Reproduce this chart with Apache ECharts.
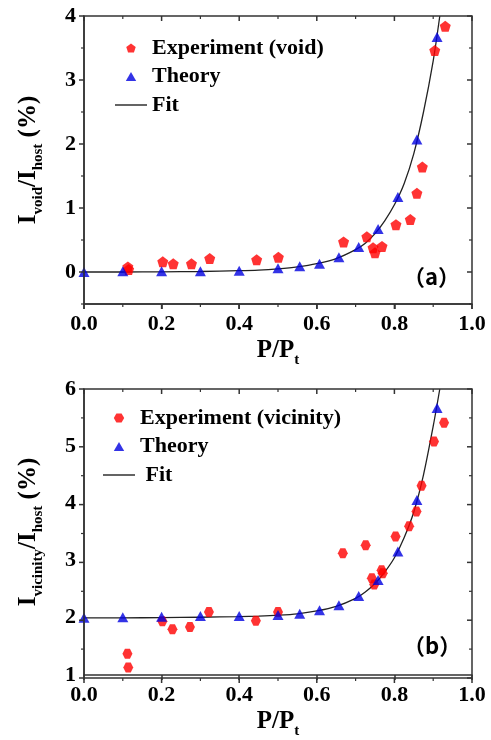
<!DOCTYPE html>
<html>
<head>
<meta charset="utf-8">
<script src="https://cdn.jsdelivr.net/npm/echarts@6/dist/echarts.min.js"></script>
<style>html,body{margin:0;padding:0;background:#fff;}#c{width:491px;height:740px;}</style>
</head>
<body>
<div id="c"></div>
<script>
// ---------- data ----------
const xTicks = [0, 0.2, 0.4, 0.6, 0.8, 1.0];
const xMinor = [0.1, 0.3, 0.5, 0.7, 0.9];
const yTicksA = [0, 1, 2, 3, 4];
const yMinorA = [-0.5, 0.5, 1.5, 2.5, 3.5];
const yTicksB = [1, 2, 3, 4, 5, 6];
const yMinorB = [1.5, 2.5, 3.5, 4.5, 5.5];

// (a) void
const expVoidX = [0.113, 0.115, 0.203, 0.230, 0.277, 0.324, 0.445, 0.501, 0.669, 0.729, 0.745, 0.750, 0.768, 0.804, 0.841, 0.858, 0.872, 0.904, 0.931];
const expVoidY = [0.08, 0.04, 0.16, 0.13, 0.13, 0.21, 0.19, 0.23, 0.47, 0.55, 0.38, 0.30, 0.40, 0.74, 0.82, 1.23, 1.64, 3.46, 3.84];
const theoryX = [0.0, 0.10, 0.20, 0.30, 0.40, 0.50, 0.556, 0.607, 0.657, 0.708, 0.758, 0.809, 0.858, 0.910];
const theoryVoidY = [0.0, 0.01, 0.01, 0.01, 0.02, 0.06, 0.09, 0.13, 0.23, 0.39, 0.67, 1.17, 2.07, 3.67];
const fitX = [0, 0.1, 0.2, 0.3, 0.4, 0.45, 0.5, 0.55, 0.6, 0.65, 0.7, 0.725, 0.75, 0.775, 0.8, 0.825, 0.85, 0.875, 0.9, 0.917];
const fitVoidY = [0, 0, 0.003, 0.008, 0.02, 0.03, 0.05, 0.08, 0.13, 0.21, 0.35, 0.45, 0.6, 0.8, 1.05, 1.38, 1.85, 2.5, 3.3, 4.0];

// (b) vicinity
const expVicX = [0.112, 0.114, 0.202, 0.228, 0.273, 0.322, 0.443, 0.500, 0.667, 0.726, 0.742, 0.748, 0.767, 0.770, 0.803, 0.838, 0.857, 0.870, 0.902, 0.928];
const expVicY = [1.37, 1.13, 1.94, 1.80, 1.84, 2.10, 1.95, 2.10, 3.13, 3.27, 2.69, 2.58, 2.83, 2.78, 3.42, 3.60, 3.86, 4.31, 5.08, 5.41];
const theoryVicY = [2.0, 2.01, 2.02, 2.03, 2.03, 2.05, 2.07, 2.13, 2.22, 2.38, 2.66, 3.16, 4.06, 5.67];
const fitVicY = [2, 2, 2.003, 2.01, 2.02, 2.03, 2.045, 2.07, 2.12, 2.2, 2.34, 2.45, 2.6, 2.8, 3.05, 3.4, 3.85, 4.5, 5.35, 6.0];

const zip = (a, b) => a.map((v, i) => [v, b[i]]);

// ---------- style ----------
const SERIF = '"Liberation Serif", "DejaVu Serif", serif';
const AX = '#333';
const RED = '#ff0000';
const BLUE = '#0000e0';
const PENT = 'path://M0,-10 L9.511,-3.09 L5.878,8.09 L-5.878,8.09 L-9.511,-3.09 Z';
const HEX = 'path://M10,0 L5,8.66 L-5,8.66 L-10,0 L-5,-8.66 L5,-8.66 Z';
const TRI = 'path://M0,-10 L11,9 L-11,9 Z';
const LINEICON = 'path://M0,0 L32,0 L32,1.4 L0,1.4 Z';

const GRIDS = [
  {left: 84, top: 16, width: 388, height: 288, ymin: -0.5, ymax: 4, yMaj: yTicksA, yMin: yMinorA},
  {left: 84, top: 389, width: 388, height: 289, ymin: 1, ymax: 6, yMaj: yTicksB, yMin: yMinorB}
];

const labelStyle = () => ({color: '#000', fontFamily: SERIF, fontWeight: 'bold', fontSize: 22, showMinLabel: true, showMaxLabel: true});
const rich = () => ({
  m: {fontFamily: SERIF, fontWeight: 'bold', fontSize: 25, color: '#000', verticalAlign: 'middle', lineHeight: 34},
  s: {fontFamily: SERIF, fontWeight: 'bold', fontSize: 15, color: '#000', verticalAlign: 'bottom', lineHeight: 34}
});
const lineS = () => ({show: true, onZero: false, lineStyle: {color: AX, width: 1.5}});
const majT = () => ({show: true, length: 5, lineStyle: {color: AX, width: 1.5}});

// frame and tick marks (axis decoration) built from the grid geometry and tick values
function frameGraphics() {
  const out = [];
  const seg = (x1, y1, x2, y2, w) => out.push({type: 'line', z: 50, silent: true,
    shape: {x1: x1, y1: y1, x2: x2, y2: y2}, style: {stroke: AX, lineWidth: w}});
  GRIDS.forEach(g => {
    const L = g.left, T = g.top, R = g.left + g.width, B = g.top + g.height;
    out.push({type: 'rect', z: 50, silent: true, shape: {x: L, y: T, width: g.width, height: g.height},
      style: {fill: null, stroke: AX, lineWidth: 1.5}});
    const px = v => L + v * g.width;
    const py = v => B - (v - g.ymin) / (g.ymax - g.ymin) * g.height;
    xTicks.forEach(v => { const x = px(v); seg(x, B, x, B + 5, 1.5); seg(x, T, x, T + 5, 1.5); });
    xMinor.forEach(v => { const x = px(v); seg(x, B, x, B + 3, 1.2); seg(x, T, x, T + 3, 1.2); });
    g.yMaj.forEach(v => { const y = py(v); seg(L - 5, y, L, y, 1.5); seg(R - 5, y, R, y, 1.5); });
    g.yMin.forEach(v => { const y = py(v); seg(L - 3, y, L, y, 1.2); seg(R - 3, y, R, y, 1.2); });
  });
  return out;
}

const option = {
  animation: false,
  backgroundColor: '#fff',
  grid: GRIDS.map(g => ({left: g.left, top: g.top, width: g.width, height: g.height})),
  xAxis: [0, 1].map(i => ({
    gridIndex: i, type: 'value', position: 'bottom', min: 0, max: 1, interval: 0.2,
    axisLine: lineS(), axisTick: majT(), splitLine: {show: false},
    axisLabel: Object.assign({show: true, margin: 9, formatter: v => v.toFixed(1)}, labelStyle()),
    name: '{m|P/P}{s|t}', nameLocation: 'middle', nameGap: 30,
    nameTextStyle: {rich: rich()}
  })),
  yAxis: [
    {gridIndex: 0, type: 'value', position: 'left', min: -0.5, max: 4, interval: 0.5,
     axisLine: lineS(), axisTick: {show: false}, splitLine: {show: false},
     axisLabel: Object.assign({show: true, margin: 8, customValues: yTicksA.slice()}, labelStyle()),
     name: '{m|I}{s|void}{m|/I}{s|host}{m| (%)}', nameLocation: 'middle', nameGap: 38, nameRotate: 90,
     nameTextStyle: {rich: rich()}},
    {gridIndex: 1, type: 'value', position: 'left', min: 1, max: 6, interval: 1,
     axisLine: lineS(), axisTick: {show: false}, splitLine: {show: false},
     axisLabel: Object.assign({show: true, margin: 8}, labelStyle()),
     name: '{m|I}{s|vicinity}{m|/I}{s|host}{m| (%)}', nameLocation: 'middle', nameGap: 38, nameRotate: 90,
     nameTextStyle: {rich: rich()}}
  ],
  legend: [
    {orient: 'vertical', left: 110, top: 29, itemWidth: 32, itemHeight: 9, itemGap: 0.5,
     textStyle: {fontFamily: SERIF, fontWeight: 'bold', fontSize: 22, color: '#000', lineHeight: 28},
     data: [{name: 'Experiment (void)', icon: PENT}, {name: 'Theory', icon: TRI}, {name: 'Fit', icon: LINEICON}],
     selectedMode: false},
    {orient: 'vertical', left: 98, top: 399, itemWidth: 32, itemHeight: 9, itemGap: 0.5,
     textStyle: {fontFamily: SERIF, fontWeight: 'bold', fontSize: 22, color: '#000', lineHeight: 28},
     data: [{name: 'Experiment (vicinity)', icon: HEX}, {name: 'Theory ', icon: TRI}, {name: ' Fit', icon: LINEICON}],
     selectedMode: false}
  ],
  graphic: frameGraphics().concat([
    {type: 'text', left: 403, top: 266, style: {text: '（a）', font: 'bold 22px "Noto Sans CJK SC"', fill: '#000'}},
    {type: 'text', left: 403, top: 635, style: {text: '（b）', font: 'bold 22px "Noto Sans CJK SC"', fill: '#000'}}
  ]),
  series: [
    {name: 'Fit', type: 'line', xAxisIndex: 0, yAxisIndex: 0, data: zip(fitX, fitVoidY),
     symbol: 'none', smooth: 0.3, lineStyle: {color: '#222', width: 1.3}, itemStyle: {color: '#222'}, z: 2},
    {name: 'Theory', type: 'scatter', xAxisIndex: 0, yAxisIndex: 0, data: zip(theoryX, theoryVoidY),
     symbol: TRI, symbolSize: [11, 10], itemStyle: {color: BLUE}, z: 4},
    {name: 'Experiment (void)', type: 'scatter', xAxisIndex: 0, yAxisIndex: 0, data: zip(expVoidX, expVoidY),
     symbol: PENT, symbolSize: 11, itemStyle: {color: RED}, z: 3},

    {name: ' Fit', type: 'line', xAxisIndex: 1, yAxisIndex: 1, data: zip(fitX, fitVicY),
     symbol: 'none', smooth: 0.3, lineStyle: {color: '#222', width: 1.3}, itemStyle: {color: '#222'}, z: 2},
    {name: 'Theory ', type: 'scatter', xAxisIndex: 1, yAxisIndex: 1, data: zip(theoryX, theoryVicY),
     symbol: TRI, symbolSize: [11, 10], itemStyle: {color: BLUE}, z: 4},
    {name: 'Experiment (vicinity)', type: 'scatter', xAxisIndex: 1, yAxisIndex: 1, data: zip(expVicX, expVicY),
     symbol: HEX, symbolSize: 10, itemStyle: {color: RED}, z: 3}
  ]
};

const chart = echarts.init(document.getElementById('c'), null, {renderer: 'canvas'});
chart.setOption(option);
</script>
</body>
</html>
